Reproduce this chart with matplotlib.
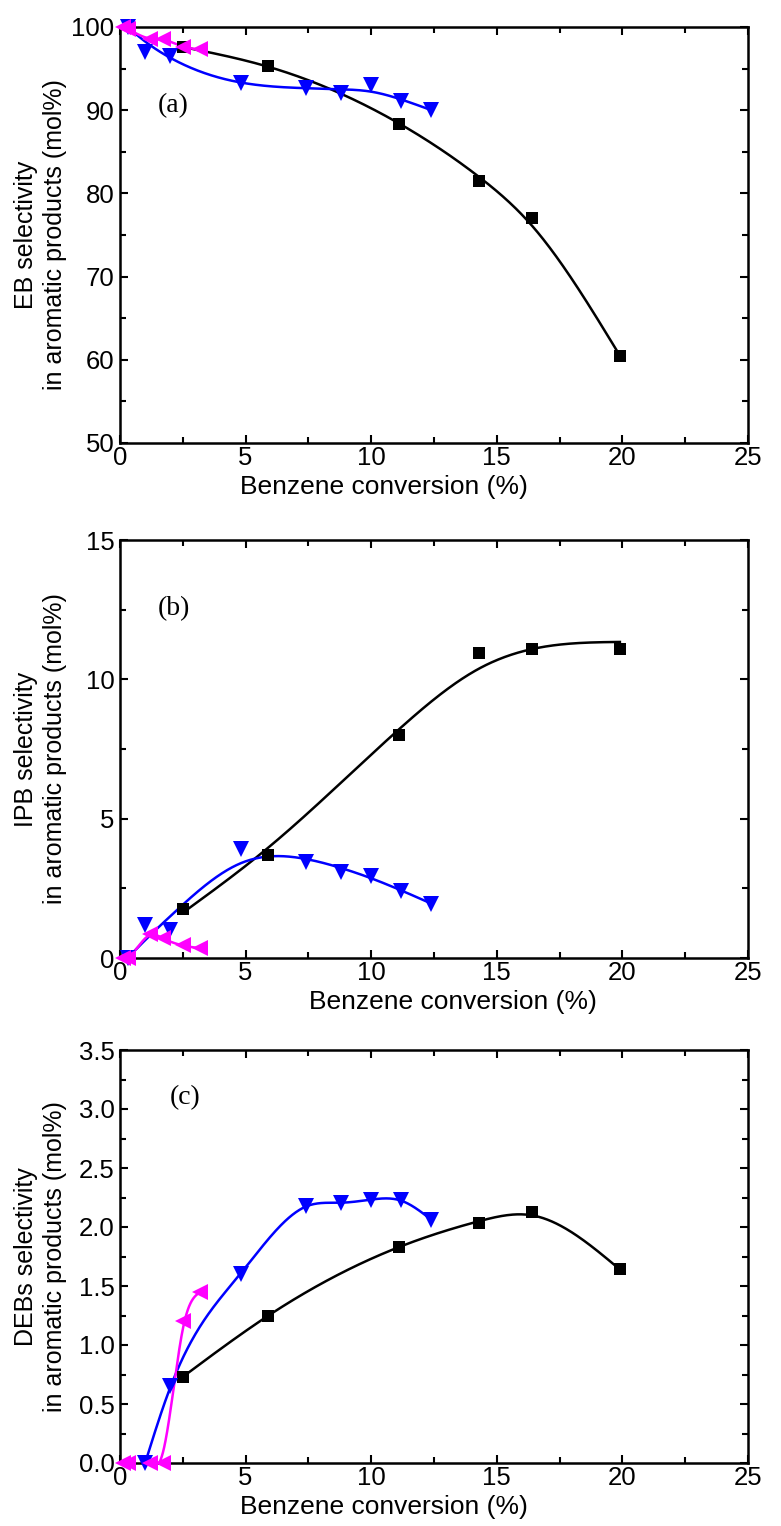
import numpy as np
import matplotlib
matplotlib.use("Agg")
import matplotlib.pyplot as plt
from matplotlib.ticker import MultipleLocator, FormatStrFormatter

# ---------------- data ----------------
x_black = [2.5, 5.9, 11.1, 14.3, 16.4, 19.9]
x_blue = [0.3, 1.0, 2.0, 4.8, 7.4, 8.8, 10.0, 11.2, 12.4]
x_magenta = [0.1, 0.3, 1.2, 1.7, 2.5, 3.2]

eb_black = [97.6, 95.3, 88.4, 81.5, 77.0, 60.5]
eb_blue = [100.0, 97.0, 96.5, 93.3, 92.7, 92.1, 93.0, 91.1, 90.0]
eb_magenta = [100.0, 99.8, 98.5, 98.6, 97.6, 97.3]

ipb_black = [1.75, 3.7, 8.0, 10.95, 11.1, 11.1]
ipb_blue = [0.0, 1.2, 1.0, 3.9, 3.45, 3.1, 2.95, 2.4, 1.95]
ipb_magenta = [0.0, 0.0, 0.85, 0.7, 0.45, 0.35]

deb_black = [0.73, 1.25, 1.83, 2.03, 2.13, 1.64]
deb_blue = [np.nan, 0.0, 0.65, 1.6, 2.18, 2.2, 2.23, 2.23, 2.06]
deb_magenta = [0.0, 0.0, 0.0, 0.0, 1.2, 1.45]

xlabel = "Benzene conversion (%)"
ylabels = ["EB selectivity\nin aromatic products (mol%)",
           "IPB selectivity\nin aromatic products (mol%)",
           "DEBs selectivity\nin aromatic products (mol%)"]
panel_tags = ["(a)", "(b)", "(c)"]


def smooth_curve(x, y, lam, end_w=1e4, n=400):
    """Penalised (smoothing-spline like) curve through/near the data."""
    x = np.asarray(x, float)
    y = np.asarray(y, float)
    m = ~np.isnan(y)
    x, y = x[m], y[m]
    x0, x1 = x[0], x[-1]
    t = (x - x0) / (x1 - x0)
    ymin = y.min()
    yr = np.ptp(y) if np.ptp(y) > 0 else 1.0
    yn = (y - ymin) / yr
    g = np.linspace(0, 1, n)
    h = g[1] - g[0]
    B = np.zeros((len(t), n))
    idx = np.clip(np.searchsorted(g, t) - 1, 0, n - 2)
    frac = (t - g[idx]) / h
    B[np.arange(len(t)), idx] = 1 - frac
    B[np.arange(len(t)), idx + 1] = frac
    w = np.ones(len(t))
    w[0] = w[-1] = end_w
    D = np.diff(np.eye(n), 2, axis=0) / h ** 2
    A = B.T @ (w[:, None] * B) + lam * h * (D.T @ D)
    z = np.linalg.solve(A, B.T @ (w * yn))
    return x0 + g * (x1 - x0), ymin + z * yr


plt.rcParams['font.family'] = ['Liberation Sans', 'DejaVu Sans']
FS_TICK = 18.5
FS_XLAB = 19
FS_YLAB = 18
FIG_W, FIG_H = 781, 1526

fig = plt.figure(figsize=(FIG_W / 100, FIG_H / 100), dpi=100)

# (top, bottom) of each plotting frame in pixels
frames = [(27, 443), (540, 958), (1050, 1463)]
left_px, right_px = 120, 748
XLAB_OFF = 32  # pixels from bottom spine to top of x-label box

panels = [
    dict(yb=eb_black, yu=eb_blue, ym=eb_magenta, ylim=(50, 100), major=10, minor=5, fmt='%d',
         lam=((3e-4, 1e4), (5e-4, 1e4), (2e-4, 1e4)), tag=(0.06, 0.81), xlab_x=0.42),
    dict(yb=ipb_black, yu=ipb_blue, ym=ipb_magenta, ylim=(0, 15), major=5, minor=2.5, fmt='%d',
         lam=((1.5e-3, 1.0), (1.5e-3, 1e4), (5e-5, 1e4)), tag=(0.06, 0.837), xlab_x=0.53),
    dict(yb=deb_black, yu=deb_blue, ym=deb_magenta, ylim=(0, 3.5), major=0.5, minor=0.25, fmt='%.1f',
         lam=((1e-4, 1e4), (2e-5, 1e4), (2e-4, 1e4)), tag=(0.08, 0.885), xlab_x=0.42),
]

for i, ((top, bot), p) in enumerate(zip(frames, panels)):
    h_px = bot - top
    rect = [left_px / FIG_W, 1 - bot / FIG_H, (right_px - left_px) / FIG_W, h_px / FIG_H]
    ax = fig.add_axes(rect)
    (lb, wb), (lu, wu), (lm, wm) = p['lam']
    series = [
        (x_black, p['yb'], 'black', 's', 9, lb, wb),
        (x_blue, p['yu'], '#0000ff', 'v', 12, lu, wu),
        (x_magenta, p['ym'], '#ff00ff', '<', 12, lm, wm),
    ]
    for xs, ys, col, mk, ms, lam, ew in series:
        cx, cy = smooth_curve(xs, ys, lam, end_w=ew)
        ax.plot(cx, cy, color=col, lw=1.8, zorder=2)
        ax.plot(xs, ys, linestyle='none', marker=mk, ms=ms, color=col,
                markeredgewidth=0, zorder=3, clip_on=False)
    ax.set_xlim(0, 25)
    ax.set_ylim(*p['ylim'])
    ax.xaxis.set_major_locator(MultipleLocator(5))
    ax.xaxis.set_minor_locator(MultipleLocator(2.5))
    ax.yaxis.set_major_locator(MultipleLocator(p['major']))
    ax.yaxis.set_minor_locator(MultipleLocator(p['minor']))
    ax.yaxis.set_major_formatter(FormatStrFormatter(p['fmt']))
    ax.tick_params(which='both', direction='in', top=True, right=True, width=1.5,
                   labelsize=FS_TICK)
    ax.tick_params(which='major', length=6)
    ax.tick_params(axis='x', which='major', pad=2.5)
    ax.tick_params(axis='y', which='major', pad=4)
    ax.tick_params(which='minor', length=4)
    for s in ax.spines.values():
        s.set_linewidth(1.8)
    ax.set_xlabel(xlabel, fontsize=FS_XLAB)
    ax.xaxis.set_label_coords(p['xlab_x'], -XLAB_OFF / h_px)
    ax.set_ylabel(ylabels[i], fontsize=FS_YLAB, linespacing=1.25)
    ax.yaxis.set_label_coords(-0.085, 0.5)
    ax.text(p['tag'][0], p['tag'][1], panel_tags[i], transform=ax.transAxes,
            fontsize=20, family='Liberation Serif', va='center', ha='left')

fig.savefig("out.png", dpi=100)
